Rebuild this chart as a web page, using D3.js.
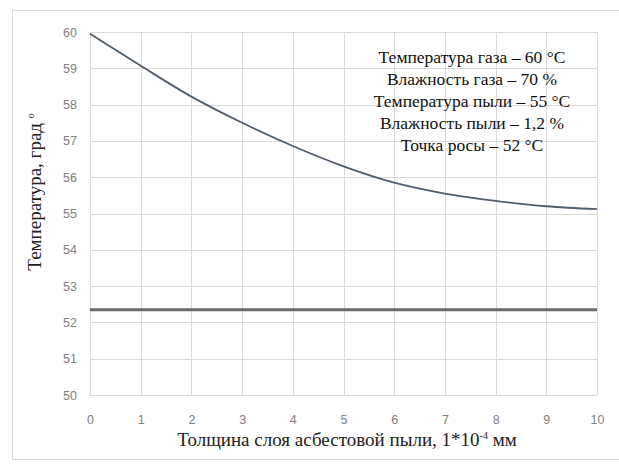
<!DOCTYPE html>
<html>
<head>
<meta charset="utf-8">
<script src="https://cdn.jsdelivr.net/npm/d3@7"></script>
<style>
  html, body { margin: 0; padding: 0; background: #fff; }
  svg { display: block; }
  .serif { font-family: "Times New Roman", "Liberation Serif", Tinos, serif; }
  .tick text { font-family: "Liberation Sans", Arial, sans-serif; font-size: 12.5px; fill: #808080; }
</style>
</head>
<body>
<svg id="chart" width="619" height="468"></svg>
<script>
// Thickness of the asbestos dust layer, 1e-4 mm
const thickness = [0, 1, 2, 3, 4, 5, 6, 7, 8, 9, 10];
// Dust surface temperature, °C
const temperature = [59.95, 59.07, 58.22, 57.5, 56.86, 56.3, 55.85, 55.55, 55.35, 55.2, 55.12];
// Dew point level line
const dewLine = [52.35, 52.35];
const dewX = [0, 10];

const xTicks = [0, 1, 2, 3, 4, 5, 6, 7, 8, 9, 10];
const yTicks = [50, 51, 52, 53, 54, 55, 56, 57, 58, 59, 60];

const notes = [
  "Температура газа – 60 °С",
  "Влажность газа – 70 %",
  "Температура пыли – 55 °С",
  "Влажность пыли – 1,2 %",
  "Точка росы – 52 °С"
];

const svg = d3.select("#chart");
const W = 619, H = 468;
const m = { left: 90, right: 22, top: 32, bottom: 73 };

// outer chart frame (runs off the right edge)
svg.append("rect")
  .attr("x", 12.5).attr("y", 10.5)
  .attr("width", 620).attr("height", 449)
  .attr("fill", "#fff").attr("stroke", "#d9d9d9").attr("stroke-width", 1);

const x = d3.scaleLinear().domain([0, 10]).range([m.left, W - m.right]);
const y = d3.scaleLinear().domain([50, 60]).range([H - m.bottom, m.top]);

// grid
const grid = svg.append("g").attr("stroke", "#d9d9d9").attr("stroke-width", 1);
grid.selectAll("line.h").data(yTicks).join("line")
  .attr("x1", x(0)).attr("x2", x(10))
  .attr("y1", d => Math.round(y(d)) + 0.5).attr("y2", d => Math.round(y(d)) + 0.5);
grid.selectAll("line.v").data(xTicks).join("line")
  .attr("y1", y(50)).attr("y2", y(60))
  .attr("x1", d => Math.round(x(d)) + 0.5).attr("x2", d => Math.round(x(d)) + 0.5);

// axes (labels only, no domain or ticks)
const yAxis = svg.append("g")
  .attr("transform", `translate(${x(0)},0)`)
  .call(d3.axisLeft(y).tickValues(yTicks).tickSize(0).tickPadding(13).tickFormat(d3.format("d")));
const xAxis = svg.append("g")
  .attr("transform", `translate(0,${y(50)})`)
  .call(d3.axisBottom(x).tickValues(xTicks).tickSize(0).tickPadding(20).tickFormat(d3.format("d")));
[yAxis, xAxis].forEach(a => {
  a.select(".domain").remove();
  a.attr("font-family", null).attr("font-size", null);
});

// curve
const line = d3.line()
  .x((d, i) => x(thickness[i]))
  .y(d => y(d))
  .curve(d3.curveMonotoneX);
svg.append("path")
  .datum(temperature)
  .attr("d", line)
  .attr("fill", "none")
  .attr("stroke", "#505e6e")
  .attr("stroke-width", 1.8);

// dew point line
svg.append("path")
  .datum(dewLine)
  .attr("d", d3.line().x((d, i) => x(dewX[i])).y(d => y(d)))
  .attr("fill", "none")
  .attr("stroke", "#6b6b6b")
  .attr("stroke-width", 3);

// conditions note
const noteG = svg.append("g")
  .attr("class", "serif")
  .style("font-size", "17.5px")
  .attr("fill", "#111")
  .attr("text-anchor", "middle");
noteG.selectAll("text").data(notes).join("text")
  .attr("x", 472)
  .attr("y", (d, i) => 63 + i * 22)
  .text(d => d);

// axis titles
const xt = svg.append("text")
  .attr("class", "serif")
  .attr("x", 347).attr("y", 446)
  .attr("text-anchor", "middle")
  .style("font-size", "19px")
  .attr("fill", "#222");
xt.append("tspan").text("Толщина слоя асбестовой пыли, 1*10");
xt.append("tspan").attr("dy", -7).style("font-size", "10px").text("-4");
xt.append("tspan").attr("dy", 7).text(" мм");

const yt = svg.append("text")
  .attr("class", "serif")
  .attr("transform", "translate(41,192) rotate(-90)")
  .attr("text-anchor", "middle")
  .style("font-size", "19px")
  .attr("fill", "#222");
yt.append("tspan").text("Температура, град ");
yt.append("tspan").attr("dy", -7).style("font-size", "10px").text("о");
</script>
</body>
</html>
